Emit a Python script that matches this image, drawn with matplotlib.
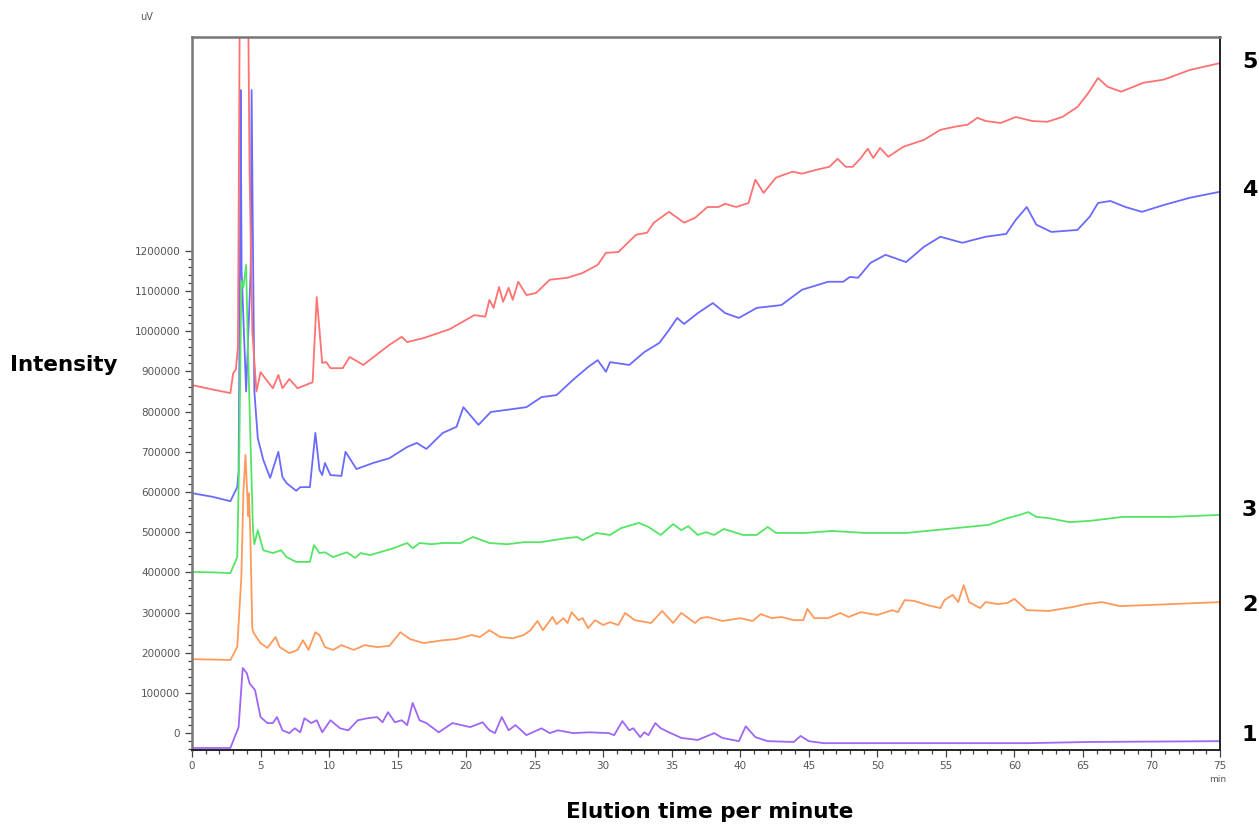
import matplotlib
matplotlib.use("Agg")
import matplotlib.pyplot as plt
from matplotlib.ticker import MultipleLocator, FixedLocator, FuncFormatter

# retention time (min) / intensity (uV), traces 1..5
t1 = [0, 2.8, 3.4, 3.7, 4.0, 4.2, 4.6, 5.0, 5.5, 5.9, 6.2, 6.6, 7.1, 7.5, 7.9, 8.2, 8.7, 9.1,
      9.5, 10.1, 10.8, 11.4, 12.1, 12.8, 13.5, 13.9, 14.3, 14.8, 15.3, 15.7, 16.1, 16.6, 17.1,
      18.0, 19.0, 20.3, 21.2, 21.7, 22.1, 22.6, 23.1, 23.6, 24.4, 25.5, 26.1, 26.7, 27.8, 29.0,
      30.4, 30.8, 31.4, 31.9, 32.2, 32.7, 33.0, 33.3, 33.8, 34.2, 34.8, 35.7, 36.9, 38.1, 38.7,
      39.9, 40.4, 41.1, 42.0, 43.9, 44.4, 45.0, 46.1, 53.6, 61.0, 65.5, 75.0]
y1 = [-37e3, -37e3, 15e3, 162e3, 149e3, 124e3, 107e3, 40e3, 25e3, 25e3, 40e3, 7e3, 0, 12e3,
      2e3, 37e3, 25e3, 32e3, 2e3, 32e3, 12e3, 7e3, 32e3, 37e3, 40e3, 27e3, 52e3, 27e3, 32e3,
      20e3, 75e3, 32e3, 25e3, 2e3, 25e3, 15e3, 27e3, 7e3, 0, 40e3, 7e3, 20e3, -5e3, 12e3, 0,
      7e3, 0, 2e3, 0, -5e3, 30e3, 7e3, 12e3, -10e3, 2e3, -5e3, 25e3, 12e3, 2e3, -12e3, -17e3,
      0, -12e3, -20e3, 17e3, -10e3, -20e3, -22e3, -7e3, -20e3, -25e3, -25e3, -25e3, -22e3, -20e3]

t2 = [0, 1.5, 2.8, 3.3, 3.6, 3.75, 3.9, 4.05, 4.1, 4.15, 4.25, 4.4, 4.5, 5.0, 5.5, 6.1, 6.4,
      7.1, 7.7, 8.1, 8.5, 9.0, 9.3, 9.7, 10.3, 10.9, 11.8, 12.6, 13.5, 14.4, 15.2, 15.9, 16.9,
      18.3, 19.3, 20.4, 21.0, 21.7, 22.5, 23.4, 24.2, 24.7, 25.2, 25.6, 26.3, 26.6, 27.1, 27.4,
      27.7, 28.2, 28.5, 28.9, 29.4, 30.0, 30.5, 31.1, 31.6, 32.3, 33.5, 34.3, 35.1, 35.7, 36.7,
      37.1, 37.6, 38.7, 40.0, 40.9, 41.5, 42.3, 43.0, 43.9, 44.6, 44.9, 45.4, 46.4, 47.3, 47.9,
      48.8, 50.0, 51.1, 51.5, 52.0, 52.7, 53.6, 54.6, 54.9, 55.5, 55.9, 56.3, 56.7, 57.5, 57.9,
      58.8, 59.5, 60.0, 60.9, 62.5, 64.3, 65.2, 66.4, 67.7, 70.0, 75.0]
y2 = [184e3, 183e3, 182e3, 214e3, 388e3, 600e3, 692e3, 580e3, 540e3, 597e3, 500e3, 260e3,
      249e3, 224e3, 212e3, 239e3, 214e3, 199e3, 207e3, 231e3, 207e3, 251e3, 244e3, 214e3,
      207e3, 219e3, 207e3, 219e3, 214e3, 217e3, 251e3, 234e3, 224e3, 231e3, 234e3, 244e3,
      239e3, 256e3, 239e3, 236e3, 244e3, 256e3, 279e3, 256e3, 289e3, 271e3, 286e3, 274e3,
      301e3, 281e3, 286e3, 261e3, 281e3, 269e3, 276e3, 269e3, 299e3, 281e3, 274e3, 304e3,
      274e3, 299e3, 274e3, 286e3, 289e3, 279e3, 286e3, 279e3, 296e3, 286e3, 289e3, 281e3,
      281e3, 309e3, 286e3, 286e3, 299e3, 289e3, 301e3, 294e3, 306e3, 301e3, 331e3, 329e3,
      319e3, 311e3, 331e3, 344e3, 326e3, 368e3, 326e3, 311e3, 326e3, 321e3, 324e3, 334e3,
      306e3, 304e3, 314e3, 321e3, 326e3, 316e3, 319e3, 326e3]

t3 = [0, 1.5, 2.8, 3.3, 3.45, 3.6, 3.75, 3.95, 4.05, 4.2, 4.45, 4.55, 4.8, 5.2, 5.9, 6.5, 6.9,
      7.6, 8.6, 8.9, 9.3, 9.7, 10.3, 11.3, 11.9, 12.3, 13.0, 13.7, 14.7, 15.7, 16.1, 16.6, 17.5,
      18.3, 19.6, 20.5, 21.7, 23.0, 24.2, 25.4, 27.3, 28.1, 28.5, 29.5, 30.5, 31.3, 32.6, 33.3,
      34.2, 35.1, 35.7, 36.2, 36.9, 37.5, 38.1, 38.8, 40.2, 41.2, 42.0, 42.6, 44.7, 46.7, 49.1,
      52.1, 55.1, 58.1, 59.5, 60.4, 61.0, 61.6, 62.5, 64.0, 65.5, 67.9, 71.5, 75.0]
y3 = [401e3, 400e3, 398e3, 438e3, 700e3, 1125e3, 1110e3, 1165e3, 1000e3, 811e3, 505e3,
      470e3, 505e3, 455e3, 448e3, 455e3, 438e3, 426e3, 426e3, 468e3, 448e3, 450e3, 438e3,
      450e3, 436e3, 448e3, 443e3, 450e3, 460e3, 473e3, 460e3, 473e3, 470e3, 473e3, 473e3,
      488e3, 473e3, 470e3, 475e3, 475e3, 485e3, 488e3, 480e3, 498e3, 493e3, 510e3, 523e3,
      513e3, 493e3, 520e3, 505e3, 515e3, 493e3, 500e3, 493e3, 508e3, 493e3, 493e3, 513e3,
      498e3, 498e3, 503e3, 498e3, 498e3, 508e3, 518e3, 535e3, 543e3, 550e3, 538e3, 535e3,
      525e3, 528e3, 538e3, 538e3, 543e3]

t4 = [0, 1.5, 2.8, 3.3, 3.4, 3.5, 3.55, 3.62, 3.95, 4.28, 4.35, 4.45, 4.55, 4.8, 5.2, 5.7,
      6.3, 6.6, 6.9, 7.6, 7.9, 8.6, 9.0, 9.3, 9.5, 9.7, 10.1, 10.9, 11.2, 12.0, 13.2, 14.4,
      15.7, 16.4, 17.1, 18.3, 19.3, 19.8, 20.9, 21.8, 22.9, 24.4, 25.5, 26.6, 27.8, 28.9, 29.6,
      30.2, 30.5, 31.9, 33.0, 34.1, 34.8, 35.4, 35.9, 36.9, 38.0, 38.9, 39.9, 41.2, 43.0, 44.5,
      46.4, 47.5, 48.0, 48.6, 49.5, 50.6, 52.1, 53.4, 54.6, 56.2, 57.9, 59.4, 60.1, 60.9, 61.6,
      62.7, 64.6, 65.5, 66.1, 67.0, 68.1, 69.3, 70.9, 72.8, 75.0]
y4 = [597e3, 588e3, 577e3, 612e3, 650e3, 1150e3, 1600e3, 1150e3, 850e3, 1150e3, 1600e3,
      1200e3, 850e3, 734e3, 680e3, 635e3, 700e3, 637e3, 622e3, 603e3, 612e3, 612e3, 747e3,
      655e3, 642e3, 672e3, 642e3, 640e3, 700e3, 657e3, 672e3, 684e3, 712e3, 722e3, 707e3,
      747e3, 762e3, 811e3, 767e3, 799e3, 804e3, 811e3, 836e3, 841e3, 879e3, 911e3, 928e3,
      899e3, 923e3, 916e3, 948e3, 971e3, 1003e3, 1033e3, 1018e3, 1045e3, 1070e3, 1045e3,
      1033e3, 1058e3, 1065e3, 1103e3, 1123e3, 1123e3, 1135e3, 1133e3, 1170e3, 1190e3,
      1172e3, 1210e3, 1235e3, 1220e3, 1235e3, 1242e3, 1277e3, 1309e3, 1265e3, 1247e3,
      1252e3, 1285e3, 1319e3, 1324e3, 1309e3, 1297e3, 1314e3, 1332e3, 1347e3]

t5 = [0, 1.5, 2.8, 3.0, 3.2, 3.35, 3.5, 3.8, 4.1, 4.2, 4.4, 4.7, 5.0, 5.9, 6.3, 6.6, 7.1, 7.7,
      8.8, 9.1, 9.5, 9.8, 10.1, 11.0, 11.5, 12.5, 14.4, 15.3, 15.7, 16.9, 18.8, 20.6, 21.4,
      21.7, 22.0, 22.4, 22.7, 23.1, 23.4, 23.8, 24.4, 25.1, 26.1, 27.4, 28.5, 29.6, 30.2, 31.1,
      32.4, 33.2, 33.7, 34.8, 35.9, 36.7, 37.6, 38.4, 38.9, 39.7, 40.6, 41.1, 41.7, 42.6, 43.8,
      44.5, 45.6, 46.5, 47.1, 47.7, 48.2, 48.8, 49.3, 49.7, 50.2, 50.8, 51.9, 53.4, 54.6, 55.7,
      56.6, 57.3, 57.9, 59.0, 60.1, 61.3, 62.4, 63.5, 64.6, 65.4, 66.1, 66.8, 67.8, 69.4, 70.9,
      72.8, 75.0]
y5 = [866e3, 855e3, 846e3, 895e3, 905e3, 960e3, 1900e3, 2300e3, 1800e3, 1400e3, 1000e3,
      850e3, 898e3, 858e3, 891e3, 858e3, 881e3, 858e3, 873e3, 1085e3, 921e3, 923e3, 908e3,
      908e3, 936e3, 916e3, 966e3, 986e3, 973e3, 983e3, 1005e3, 1040e3, 1036e3, 1078e3,
      1058e3, 1110e3, 1073e3, 1108e3, 1078e3, 1123e3, 1090e3, 1095e3, 1128e3, 1133e3,
      1145e3, 1165e3, 1195e3, 1197e3, 1240e3, 1245e3, 1270e3, 1297e3, 1270e3, 1282e3,
      1309e3, 1309e3, 1317e3, 1309e3, 1319e3, 1377e3, 1344e3, 1382e3, 1397e3, 1392e3,
      1402e3, 1409e3, 1429e3, 1409e3, 1409e3, 1431e3, 1454e3, 1431e3, 1456e3, 1434e3,
      1459e3, 1476e3, 1501e3, 1509e3, 1514e3, 1531e3, 1523e3, 1518e3, 1533e3, 1523e3,
      1521e3, 1533e3, 1558e3, 1593e3, 1630e3, 1608e3, 1596e3, 1618e3, 1626e3, 1650e3, 1667e3]

# drawing order: blue at the back, purple on top
traces = [
    (t4, y4, "#6a6aff", "4", 1352e3),
    (t5, y5, "#ff7272", "5", 1670e3),
    (t3, y3, "#55e565", "3", 555e3),
    (t2, y2, "#ff9a5c", "2", 319e3),
    (t1, y1, "#a066f5", "1", -5e3),
]

fig = plt.figure(figsize=(12.59, 8.25), dpi=100)
ax = fig.add_axes([192 / 1259, 75 / 825, 1028 / 1259, 713 / 825])

for t, y, col, lab, ylab in traces:
    ax.plot(t, y, color=col, lw=1.3)
    ax.text(76.6, ylab, lab, fontsize=16, fontweight="bold", ha="left", va="center",
            clip_on=False)

ax.set_xlim(0, 75)
ax.set_ylim(-42000, 1732000)

ax.xaxis.set_major_locator(MultipleLocator(5))
ax.xaxis.set_minor_locator(MultipleLocator(1))
ax.yaxis.set_major_locator(FixedLocator([i * 100000 for i in range(13)]))
ax.yaxis.set_minor_locator(FixedLocator([i * 20000 for i in range(-2, 61)]))
ax.yaxis.set_major_formatter(FuncFormatter(lambda v, p: "%d" % v))

ax.tick_params(which="both", direction="out", colors="#444444", labelcolor="#555555",
               labelsize=7.5, width=0.9)
ax.tick_params(which="major", length=5)
ax.tick_params(which="minor", length=3)
ax.tick_params(axis="x", pad=3)

for side in ["left", "top"]:
    ax.spines[side].set_color("#777777")
    ax.spines[side].set_linewidth(1.8)
for side in ["right", "bottom"]:
    ax.spines[side].set_color("#222222")
    ax.spines[side].set_linewidth(1.4)

fig.text(140 / 1259, 1 - 17 / 825, "uV", fontsize=7, color="#555555", ha="left",
         va="center")
fig.text(1218 / 1259, 1 - 779 / 825, "min", fontsize=6.5, color="#555555", ha="center",
         va="center")
fig.text(10 / 1259, 1 - 365 / 825, "Intensity", fontsize=15.5, fontweight="bold",
         ha="left", va="center")
fig.text(710 / 1259, 1 - 812 / 825, "Elution time per minute", fontsize=15.5,
         fontweight="bold", ha="center", va="center")

fig.savefig("out.png", dpi=100)
